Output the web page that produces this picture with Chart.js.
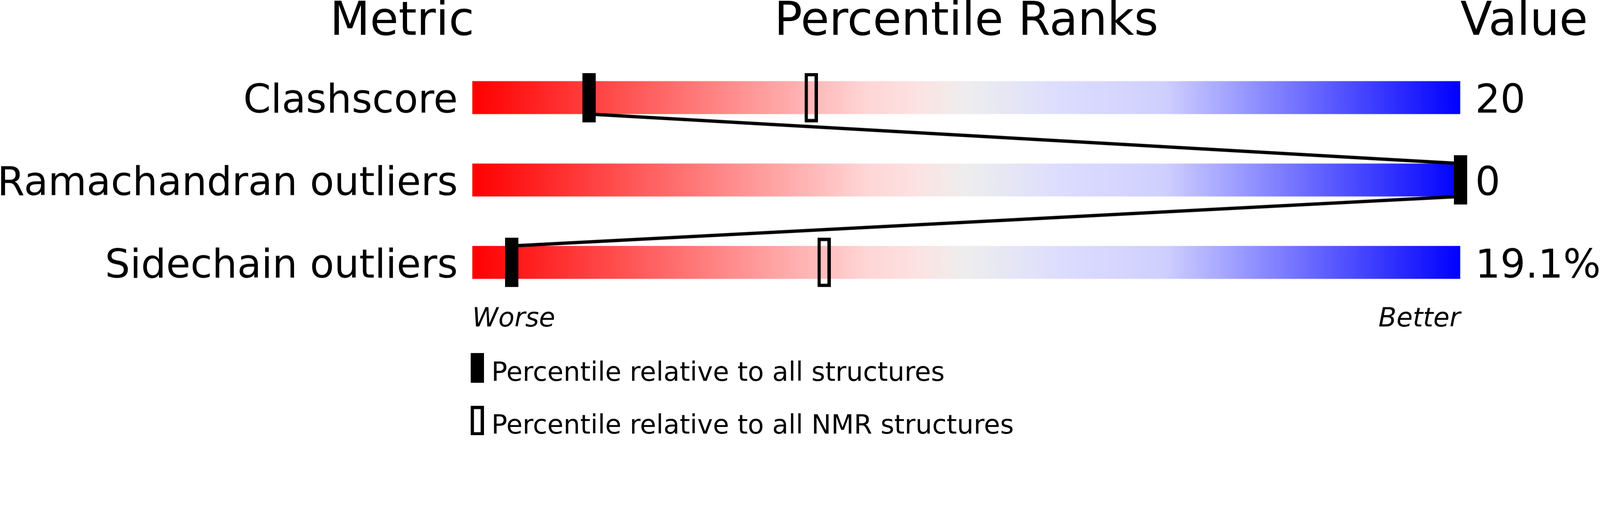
<!DOCTYPE html>
<html>
<head>
<meta charset="utf-8">
<title>Percentile Ranks</title>
<script src="https://cdn.jsdelivr.net/npm/chart.js@4.4.1/dist/chart.umd.min.js"></script>
<style>
  html, body { margin: 0; padding: 0; background: #fff; overflow: hidden; }
  #wrap { position: relative; width: 100vw; }
</style>
</head>
<body>
<div id="wrap"><canvas id="sliderChart"></canvas></div>
<script>
const metrics = ['Clashscore', 'Ramachandran outliers', 'Sidechain outliers'];
const values = ['20', '0', '19.1%'];
const pctAll = [11.8, 100, 4];
const pctNmr = [34.3, null, 35.6];
const scaleEnds = ['Worse', 'Better'];
const headers = ['Metric', 'Percentile Ranks', 'Value'];
const legendLabels = ['Percentile relative to all structures', 'Percentile relative to all NMR structures'];

const FONT = '"DejaVu Sans", sans-serif';
const HALF_BAR = 0.2; // half the bar height, in row units

// layout was measured on a 4858x1321 picture, scale it to the real window width
const k = window.innerWidth / 4858;
const px = (v) => v * k;
document.getElementById('wrap').style.height = px(1321) + 'px';

// gradient of the slider, red (worse) -> blue (better)
const gradientStops = [
    [0, 'rgb(255,0,0)'],
    [0.4, 'rgb(255,214,214)'],
    [0.45, 'rgb(253,226,226)'],
    [0.5, 'rgb(238,238,238)'],
    [0.6, 'rgb(220,220,255)'],
    [0.7, 'rgb(208,208,255)'],
    [1, 'rgb(0,0,255)']
];

function makeMark(filled, h) {
    const c = document.createElement('canvas');
    c.width = Math.round(px(40));
    c.height = Math.round(px(h));
    const g = c.getContext('2d');
    g.fillStyle = '#000';
    g.strokeStyle = '#000';
    if (filled) {
        g.fillRect(0, 0, c.width, c.height);
    } else {
        const lw = px(10);
        g.lineWidth = lw;
        g.strokeRect(lw / 2, lw / 2, c.width - lw, c.height - lw);
    }
    return c;
}

const markAll = makeMark(true, 150);
const markNmr = makeMark(false, 150);
const legendMarks = [makeMark(true, 90), makeMark(false, 90)];

function barGradient(context) {
    const chart = context.chart;
    const area = chart.chartArea;
    if (!area) return 'rgb(238,238,238)';
    const g = chart.ctx.createLinearGradient(area.left, 0, area.right, 0);
    gradientStops.forEach(([o, c]) => g.addColorStop(o, c));
    return g;
}

const textPlugin = {
    id: 'sliderText',
    afterDraw(chart) {
        const { ctx, chartArea: a } = chart;
        ctx.save();
        ctx.fillStyle = '#000';
        ctx.textBaseline = 'alphabetic';
        ctx.font = px(141) + 'px ' + FONT;
        ctx.textAlign = 'right';
        ctx.fillText(headers[0], a.left + px(6), px(106));
        ctx.textAlign = 'center';
        ctx.fillText(headers[1], (a.left + a.right) / 2, px(106));
        ctx.textAlign = 'left';
        ctx.fillText(headers[2], a.right, px(106));

        // legend
        ctx.font = px(80) + 'px ' + FONT;
        legendLabels.forEach((t, i) => {
            const top = px(1071 + i * 160);
            ctx.drawImage(legendMarks[i], a.left - px(5), top);
            ctx.fillText(t, a.left + px(58), top + px(84));
        });
        ctx.restore();
    }
};

const rowTicks = (scale) => { scale.ticks = metrics.map((_, i) => ({ value: i })); };

const rowAxis = (position, labels, width, padding) => ({
    type: 'linear',
    position: position,
    reverse: true,
    offset: false,
    min: -0.5,
    max: 2.5,
    grid: { display: false, drawTicks: false },
    border: { display: false },
    afterBuildTicks: rowTicks,
    afterFit: (s) => { s.width = px(width); },
    ticks: {
        padding: px(padding),
        labelOffset: px(15),
        color: '#000',
        font: { family: FONT, size: px(120) },
        callback: (v) => labels[v] ?? ''
    }
});

const ctx = document.getElementById('sliderChart').getContext('2d');

new Chart(ctx, {
    data: {
        datasets: [
            {
                type: 'scatter',
                label: 'all',
                data: pctAll.map((p, i) => ({ x: p, y: i })),
                pointStyle: markAll,
                pointRadius: 1,
                clip: false,
                order: 0
            },
            {
                type: 'scatter',
                label: 'nmr',
                data: pctNmr.map((p, i) => ({ x: p, y: i })).filter(d => d.x !== null),
                pointStyle: markNmr,
                pointRadius: 1,
                clip: false,
                order: 0
            },
            {
                type: 'line',
                label: 'link',
                data: pctAll.flatMap((p, i) => [{ x: p, y: i - HALF_BAR }, { x: p, y: i + HALF_BAR }]),
                borderColor: '#000',
                borderWidth: px(10),
                pointRadius: 0,
                tension: 0,
                fill: false,
                clip: false,
                order: 1
            },
            {
                type: 'bar',
                label: 'range',
                indexAxis: 'y',
                data: metrics.map((_, i) => ({ x: 100, y: i })),
                backgroundColor: barGradient,
                borderWidth: 0,
                barPercentage: HALF_BAR * 2,
                categoryPercentage: 1,
                order: 2
            }
        ]
    },
    options: {
        responsive: true,
        maintainAspectRatio: false,
        animation: false,
        events: [],
        layout: { padding: { top: px(171), left: 0, right: 0, bottom: 0 } },
        plugins: {
            legend: { display: false },
            tooltip: { enabled: false },
            title: { display: false }
        },
        scales: {
            x: {
                type: 'linear',
                position: 'bottom',
                offset: false,
                min: 0,
                max: 100,
                grid: { display: false, drawTicks: false },
                border: { display: false },
                afterBuildTicks: (s) => { s.ticks = [{ value: 0 }, { value: 100 }]; },
                afterFit: (s) => { s.height = px(400); },
                ticks: {
                    align: 'inner',
                    padding: 0,
                    maxRotation: 0,
                    autoSkip: false,
                    color: '#000',
                    font: { family: FONT, size: px(80), style: 'italic' },
                    callback: (v) => v === 0 ? scaleEnds[0] : (v === 100 ? scaleEnds[1] : '')
                }
            },
            y: rowAxis('left', metrics, 1434, 44),
            y2: rowAxis('right', values, 424, 45)
        }
    },
    plugins: [textPlugin]
});
</script>
</body>
</html>
